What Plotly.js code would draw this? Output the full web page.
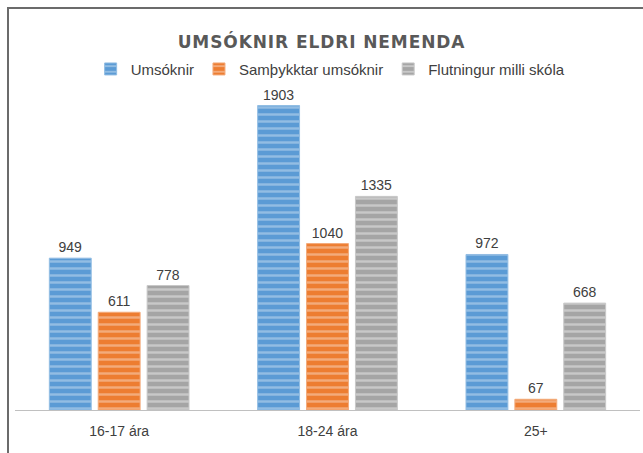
<!DOCTYPE html>
<html>
<head>
<meta charset="utf-8">
<script src="https://cdn.plot.ly/plotly-3.0.1.min.js"></script>
<style>
  html, body { margin: 0; padding: 0; background: #fff; }
  #wrap { position: relative; width: 643px; height: 453px; overflow: hidden; }
  #chart { position: absolute; left: 0; top: 0; width: 643px; height: 453px; }
  #frame { position: absolute; left: 7px; top: 7px; width: 700px; height: 500px;
           border-top: 2px solid #6b6b6b; border-left: 2px solid #6b6b6b; pointer-events: none; }
  .gtitle { letter-spacing: 0.9px; }
</style>
</head>
<body>
<div id="wrap">
  <div id="chart"></div>
  <div id="frame"></div>
</div>
<script>
const categories = ["16-17 ára", "18-24 ára", "25+"];
const seriesNames = ["Umsóknir", "Samþykktar umsóknir", "Flutningur milli skóla"];
const umsoknir = [949, 1903, 972];
const samthykktar = [611, 1040, 67];
const flutningur = [778, 1335, 668];

const seriesValues = [umsoknir, samthykktar, flutningur];
const baseColors = ["#5b9bd5", "#ed7d31", "#a5a5a5"];
const stripeColors = ["#92bde3", "#f3ab7b", "#c8c8c8"];

const traces = seriesValues.map((vals, i) => ({
  type: "bar",
  name: seriesNames[i],
  x: categories,
  y: vals,
  text: vals.map(String),
  textposition: "outside",
  cliponaxis: false,
  textfont: { family: "Liberation Sans, Arial, sans-serif", size: 14, color: "#404040" },
  marker: {
    color: baseColors[i],
    line: { color: stripeColors[i], width: 1 },
    pattern: { shape: "-", fgcolor: stripeColors[i], bgcolor: baseColors[i], size: 7, solidity: 0.35, fillmode: "replace" }
  },
  hoverinfo: "none"
}));

const layout = {
  width: 643,
  height: 453,
  margin: { l: 15, r: 3, t: 90, b: 43 },
  paper_bgcolor: "rgba(0,0,0,0)",
  plot_bgcolor: "#ffffff",
  barmode: "group",
  bargap: 0.296,
  bargroupgap: 0.143,
  showlegend: true,
  title: {
    text: "<b>UMSÓKNIR ELDRI NEMENDA</b>",
    font: { family: "DejaVu Sans, Verdana, sans-serif", size: 17, color: "#595959" },
    x: 0.5, xanchor: "center",
    y: 1 - 42 / 453, yanchor: "middle", yref: "container"
  },
  legend: {
    orientation: "h",
    x: 0.505, xanchor: "center",
    y: 1.065, yanchor: "middle",
    font: { family: "Liberation Sans, Arial, sans-serif", size: 15, color: "#404040" },
    itemwidth: 30,
    tracegroupgap: 0
  },
  xaxis: {
    type: "category",
    showline: true,
    linecolor: "#c0c0c0",
    linewidth: 1,
    ticks: "",
    showgrid: false,
    tickfont: { family: "Liberation Sans, Arial, sans-serif", size: 14, color: "#404040" },
    ticklabelstandoff: 8
  },
  yaxis: {
    range: [0, 2000],
    visible: false,
    showgrid: false,
    zeroline: false
  }
};

Plotly.newPlot("chart", traces, layout, { staticPlot: true, displayModeBar: false });
</script>
</body>
</html>
